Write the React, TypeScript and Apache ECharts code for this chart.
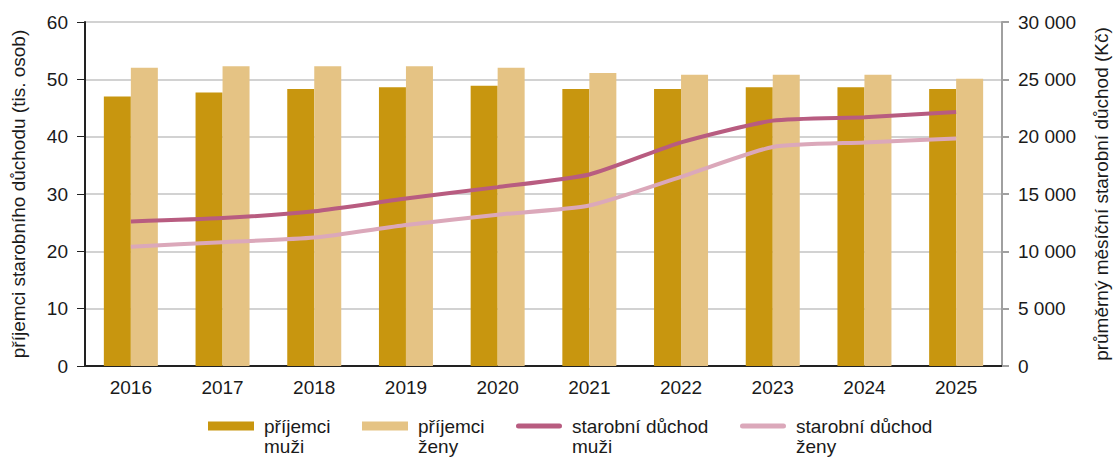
import React, { useEffect, useRef } from "react";
import * as echarts from "echarts";

const years = ["2016", "2017", "2018", "2019", "2020", "2021", "2022", "2023", "2024", "2025"];
const recipientsMen = [47.0, 47.7, 48.3, 48.6, 48.9, 48.3, 48.3, 48.6, 48.6, 48.3];
const recipientsWomen = [52.0, 52.3, 52.3, 52.3, 52.0, 51.1, 50.8, 50.8, 50.8, 50.1];
const pensionMen = [12600, 12900, 13500, 14600, 15600, 16700, 19500, 21400, 21700, 22150];
const pensionWomen = [10400, 10800, 11200, 12300, 13200, 14000, 16500, 19100, 19500, 19850];

const seriesNames = [
  "příjemci\nmuži",
  "příjemci\nženy",
  "starobní důchod\nmuži",
  "starobní důchod\nženy",
];
const legendLefts = [208, 362, 516, 740];

const colors = ["#C8960F", "#E5C384", "#B85C80", "#DBA8BA"];
const FONT = "Liberation Sans, Arial, sans-serif";
const FS = 19;

// icon paths: visible shape in upper part, invisible degenerate lines define the 51x40 box
const BOX = "M0,0L51,0M0,40L51,40";
const barIcon = "path://M0,5.5L46,5.5L46,14.5L0,14.5Z" + BOX;
const lineIcon =
  "path://M2.5,7.5L43.5,7.5A2.5,2.5 0 0 1 43.5,12.5L2.5,12.5A2.5,2.5 0 0 1 2.5,7.5Z" + BOX;

export default function App() {
  const ref = useRef<HTMLDivElement>(null);
  useEffect(() => {
    if (!ref.current) return;
    const chart = echarts.init(ref.current, undefined, { renderer: "svg" });
    const legends = seriesNames.map((n, i) => ({
      data: [n],
      left: legendLefts[i],
      top: 416,
      itemWidth: 51,
      itemHeight: 40,
      itemGap: 0,
      padding: 0,
      selectedMode: false,
      icon: i < 2 ? barIcon : lineIcon,
      itemStyle: { color: colors[i], borderWidth: 0 },
      lineStyle: { width: 0 },
      textStyle: {
        fontFamily: FONT,
        fontSize: FS,
        color: "#1a1a1a",
        lineHeight: 20,
      },
    }));
    chart.setOption({
      animation: false,
      textStyle: { fontFamily: FONT },
      color: colors,
      legend: legends,
      grid: { left: 85, right: 114, top: 22, bottom: 91 },
      xAxis: {
        type: "category",
        data: years,
        axisLine: { lineStyle: { color: "#222", width: 2 } },
        axisTick: { show: false },
        axisLabel: { fontFamily: FONT, fontSize: FS, color: "#1a1a1a", margin: 12 },
      },
      yAxis: [
        {
          type: "value",
          min: 0,
          max: 60,
          interval: 10,
          name: "příjemci starobního důchodu (tis. osob)",
          nameLocation: "middle",
          nameGap: 57,
          nameTextStyle: { fontFamily: FONT, fontSize: FS, color: "#1a1a1a" },
          axisLine: { show: true, lineStyle: { color: "#222", width: 2 } },
          axisTick: { show: true, length: 8, lineStyle: { color: "#222" } },
          axisLabel: { fontFamily: FONT, fontSize: FS, color: "#1a1a1a", margin: 17 },
          splitLine: { lineStyle: { color: "#d2d2d2", width: 2 } },
        },
        {
          type: "value",
          min: 0,
          max: 30000,
          interval: 5000,
          position: "right",
          name: "průměrný měsíční starobní důchod (Kč)",
          nameLocation: "middle",
          nameGap: 90,
          nameRotate: 90,
          nameTextStyle: { fontFamily: FONT, fontSize: FS, color: "#1a1a1a" },
          axisLine: { show: true, lineStyle: { color: "#a0a0a0", width: 2 } },
          axisTick: { show: true, length: 7, lineStyle: { color: "#a0a0a0", width: 2 } },
          axisLabel: {
            fontFamily: FONT,
            fontSize: FS,
            color: "#1a1a1a",
            margin: 16,
            formatter: (v: number) => String(v).replace(/\B(?=(\d{3})+(?!\d))/g, " "),
          },
          splitLine: { show: false },
        },
      ],
      series: [
        {
          name: seriesNames[0],
          type: "bar",
          data: recipientsMen,
          barWidth: 27,
          barGap: "0%",
          itemStyle: { color: colors[0] },
        },
        {
          name: seriesNames[1],
          type: "bar",
          data: recipientsWomen,
          barWidth: 27,
          barGap: "0%",
          itemStyle: { color: colors[1] },
        },
        {
          name: seriesNames[2],
          type: "line",
          yAxisIndex: 1,
          data: pensionMen,
          smooth: 0.2,
          symbol: "none",
          lineStyle: { color: colors[2], width: 4 },
          itemStyle: { color: colors[2] },
          z: 5,
        },
        {
          name: seriesNames[3],
          type: "line",
          yAxisIndex: 1,
          data: pensionWomen,
          smooth: 0.2,
          symbol: "none",
          lineStyle: { color: colors[3], width: 4 },
          itemStyle: { color: colors[3] },
          z: 5,
        },
      ],
    });
    return () => chart.dispose();
  }, []);
  return <div ref={ref} style={{ width: 1119, height: 457, position: "absolute", left: 0, top: 0 }} />;
}
